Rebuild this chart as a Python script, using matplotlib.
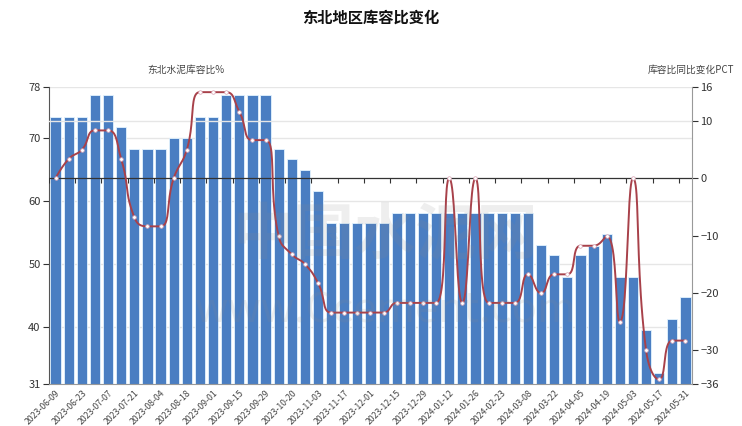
import numpy as np
import matplotlib.pyplot as plt

plt.rcParams['font.family'] = ['Noto Sans CJK SC', 'DejaVu Sans']

dates = ['2023-06-09', '2023-06-16', '2023-06-23', '2023-06-30', '2023-07-07',
         '2023-07-14', '2023-07-21', '2023-07-28', '2023-08-04', '2023-08-11',
         '2023-08-18', '2023-08-25', '2023-09-01', '2023-09-08', '2023-09-15',
         '2023-09-22', '2023-09-29', '2023-10-13', '2023-10-20', '2023-10-27',
         '2023-11-03', '2023-11-10', '2023-11-17', '2023-11-24', '2023-12-01',
         '2023-12-08', '2023-12-15', '2023-12-22', '2023-12-29', '2024-01-05',
         '2024-01-12', '2024-01-19', '2024-01-26', '2024-02-02', '2024-02-23',
         '2024-03-01', '2024-03-08', '2024-03-15', '2024-03-22', '2024-03-29',
         '2024-04-05', '2024-04-12', '2024-04-19', '2024-04-26', '2024-05-03',
         '2024-05-10', '2024-05-17', '2024-05-24', '2024-05-31']

ratio = [73.3, 73.3, 73.3, 76.7, 76.7, 71.6, 68.2, 68.2, 68.2, 69.9,
         69.9, 73.3, 73.3, 76.7, 76.7, 76.7, 76.7, 68.2, 66.6, 64.9,
         61.5, 56.4, 56.4, 56.4, 56.4, 56.4, 58.0, 58.0, 58.0, 58.0,
         58.0, 58.0, 58.0, 58.0, 58.0, 58.0, 58.0, 53.0, 51.4, 48.0,
         51.4, 52.8, 54.8, 48.0, 48.0, 39.6, 32.7, 41.3, 44.7]

yoy = [0, 3.4, 5.0, 8.4, 8.4, 3.4, -6.8, -8.4, -8.4, 0,
       5.0, 15.1, 15.1, 15.1, 11.7, 6.7, 6.7, -10.1, -13.3, -15.0,
       -18.3, -23.5, -23.5, -23.5, -23.5, -23.5, -21.8, -21.8, -21.8, -21.8,
       0, -21.8, 0, -21.8, -21.8, -21.8, -16.8, -20.1, -16.8, -16.8,
       -11.8, -11.8, -10.1, -25.1, 0, -30.1, -35.2, -28.4, -28.4]

left_ticks = [31, 40, 50, 60, 70, 78]
right_ticks = [-36, -30, -20, -10, 0, 10, 16]


def clamp(v, a, b):
    return max(min(v, max(a, b)), min(a, b))


def smooth_curve(xs, ys, sx, sy, smooth=0.5, steps=24):
    # echarts-style bezier smoothing (control points clamped), in pixel-ish space
    px = [v * sx for v in xs]
    py = [v * sy for v in ys]
    n = len(px)
    t = np.linspace(0, 1, steps)[1:]
    out_x = [px[0]]
    out_y = [py[0]]
    cpx0, cpy0 = px[0], py[0]
    for i in range(1, n):
        x, y = px[i], py[i]
        prx, pry = px[i - 1], py[i - 1]
        if i == n - 1:
            cpx1, cpy1 = x, y
            ncx, ncy = x, y
        else:
            nx, ny = px[i + 1], py[i + 1]
            vx, vy = nx - prx, ny - pry
            lp = np.hypot(x - prx, y - pry)
            ln = np.hypot(nx - x, ny - y)
            r = ln / (ln + lp)
            ncx = clamp(x + vx * smooth * r, nx, x)
            ncy = clamp(y + vy * smooth * r, ny, y)
            vx, vy = ncx - x, ncy - y
            cpx1 = clamp(x - vx * lp / ln, prx, x)
            cpy1 = clamp(y - vy * lp / ln, pry, y)
            vx, vy = x - cpx1, y - cpy1
            ncx = x + vx * ln / lp
            ncy = y + vy * ln / lp
        bx = (1 - t) ** 3 * prx + 3 * (1 - t) ** 2 * t * cpx0 + 3 * (1 - t) * t ** 2 * cpx1 + t ** 3 * x
        by = (1 - t) ** 3 * pry + 3 * (1 - t) ** 2 * t * cpy0 + 3 * (1 - t) * t ** 2 * cpy1 + t ** 3 * y
        out_x.extend(bx)
        out_y.extend(by)
        cpx0, cpy0 = ncx, ncy
    return np.array(out_x) / sx, np.array(out_y) / sy


fig = plt.figure(figsize=(7.42, 4.26), dpi=100)
ax = fig.add_axes([49 / 742, 1 - 384 / 426, 643 / 742, 297 / 426])
ax2 = ax.twinx()

x = np.arange(len(dates))
ax.bar(x, ratio, width=0.78, color='#4a7ec2', edgecolor='#e3f3ff', linewidth=0.6, zorder=2)
ax.set_ylim(31, 78)
ax.set_xlim(-0.5, len(dates) - 0.5)
ax.set_yticks(left_ticks)
ax.set_xticks(x[::2])
ax.set_xticklabels(dates[::2], rotation=45, ha='right', rotation_mode='anchor', fontsize=6.3, color='#444')
ax.tick_params(axis='x', length=0, pad=3)
ax.tick_params(axis='y', labelsize=8, colors='#333', length=4, width=0.8, pad=2)
for yv in left_ticks[1:]:
    ax.axhline(yv, color='#e6e6e6', lw=1, zorder=0)
for s in ['top', 'right']:
    ax.spines[s].set_visible(False)
ax.spines['left'].set_color('#555')
ax.spines['bottom'].set_color('#999')

ax2.set_ylim(-36, 16)
ax2.set_yticks(right_ticks)
ax2.tick_params(axis='y', labelsize=8, colors='#333', length=4, width=0.8, pad=2)
for s in ['top', 'left', 'bottom']:
    ax2.spines[s].set_visible(False)
ax2.spines['right'].set_color('#999')
ax2.axhline(10, color='#e6e6e6', lw=1, zorder=0)

# zero line of the right axis with small ticks
ax2.axhline(0, color='#333', lw=0.9, zorder=3)
ax2.vlines(np.arange(0, len(dates) + 1, 2) - 0.5, -0.8, 0, color='#333', lw=0.8, zorder=3)

lx, ly = smooth_curve(list(x), yoy, 13.12, 5.71)
ax2.plot(lx, ly, color='#a8414a', lw=1.4, zorder=4)
ax2.plot(x, yoy, 'o', ms=2.6, mfc='white', mec='#d9a4b5', mew=0.5, zorder=5)

# watermark
fig.text(0.52, 0.445, '中国水泥网', fontsize=44, color='#8a8a8a', alpha=0.14,
         ha='center', va='center', fontweight='bold')
fig.text(0.52, 0.27, 'www.Ccement.com', fontsize=30, color='#8a8a8a', alpha=0.14,
         ha='center', va='center')

fig.text(0.5, 1 - 18 / 426, '东北地区库容比变化', fontsize=11, fontweight='bold',
         ha='center', va='center', color='#111')
fig.text(186 / 742, 1 - 70 / 426, '东北水泥库容比%', fontsize=7, ha='center', va='center', color='#444')
fig.text(691 / 742, 1 - 70 / 426, '库容比同比变化PCT', fontsize=7, ha='center', va='center', color='#444')

fig.savefig('out.png', dpi=100)
